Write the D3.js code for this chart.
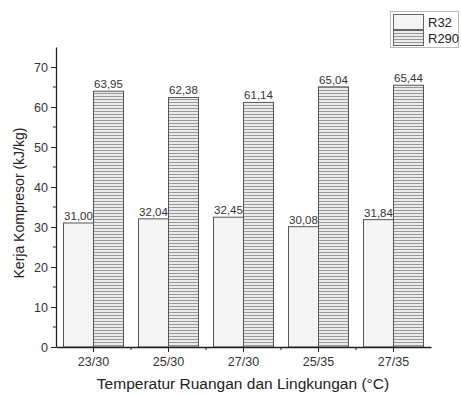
<!DOCTYPE html>
<html><head><meta charset="utf-8">
<script src="https://cdn.jsdelivr.net/npm/d3@7"></script>
<style>body{margin:0;background:#fff}svg{display:block}text{font-family:"Liberation Sans",Arimo,sans-serif}</style>
</head><body>
<svg id="c" width="461" height="396"></svg>
<script>
const categories = ["23/30","25/30","27/30","25/35","27/35"];
const seriesNames = ["R32","R290"];
const r32 = [31.00,32.04,32.45,30.08,31.84];
const r290 = [63.95,62.38,61.14,65.04,65.44];
const labelsR32 = ["31,00","32,04","32,45","30,08","31,84"];
const labelsR290 = ["63,95","62,38","61,14","65,04","65,44"];
const yTicks = [0,10,20,30,40,50,60,70];
const FONT = "'Liberation Sans',Arimo,sans-serif";

const svg = d3.select("#c");
const defs = svg.append("defs");
const p1 = defs.append("pattern").attr("id","dots").attr("patternUnits","userSpaceOnUse").attr("width",2).attr("height",2);
p1.append("rect").attr("width",2).attr("height",2).attr("fill","#f7f7f7");
p1.append("rect").attr("width",1).attr("height",1).attr("fill","#ececec");
const p2 = defs.append("pattern").attr("id","hlines").attr("patternUnits","userSpaceOnUse").attr("width",4).attr("height",3);
p2.append("rect").attr("width",4).attr("height",3).attr("fill","#ebebeb");
p2.append("rect").attr("y",0).attr("width",4).attr("height",1).attr("fill","#999");
const fills = ["url(#dots)","url(#hlines)"];

const L=56, R=431, T=47, B=347;
const x = d3.scaleBand().domain(categories).range([L,R]).paddingInner(0.2).paddingOuter(0.1);
const xs = d3.scaleBand().domain(seriesNames).range([0,x.bandwidth()]);
const y = d3.scaleLinear().domain([0,75]).range([B,T]);

const data = categories.map((c,i)=>({c, vals:[r32[i],r290[i]], labs:[labelsR32[i],labelsR290[i]]}));
const g = svg.append("g");
data.forEach(d=>{
  d.vals.forEach((v,j)=>{
    g.append("rect").attr("x",x(d.c)+xs(seriesNames[j])).attr("y",y(v))
      .attr("width",xs.bandwidth()).attr("height",B-y(v))
      .attr("fill",fills[j]).attr("stroke","#555").attr("stroke-width",1);
    g.append("text").attr("x",x(d.c)+xs(seriesNames[j])+xs.bandwidth()/2).attr("y",y(v)-3)
      .attr("text-anchor","middle").attr("font-size",11.5).attr("fill","#333").text(d.labs[j]);
  });
});

// axes
const yAxis = svg.append("g").attr("transform",`translate(${L},0)`)
  .call(d3.axisLeft(y).tickValues(yTicks).tickSize(5).tickSizeOuter(0));
yAxis.select(".domain").attr("stroke","#222").attr("stroke-width",1.3);
yAxis.selectAll(".tick line").attr("stroke","#222");
yAxis.selectAll("text").attr("font-size",12.5).attr("fill","#333").attr("font-family",FONT);
const minor = d3.range(5,75,10);
svg.append("g").selectAll("line").data(minor).join("line")
  .attr("x1",L-3).attr("x2",L).attr("y1",d=>y(d)).attr("y2",d=>y(d)).attr("stroke","#222");

const xAxis = svg.append("g").attr("transform",`translate(0,${B})`)
  .call(d3.axisBottom(x).tickSize(5).tickSizeOuter(0));
xAxis.select(".domain").attr("stroke","#222").attr("stroke-width",1.3);
xAxis.selectAll(".tick line").attr("stroke","#222");
xAxis.selectAll("text").attr("font-size",12.5).attr("fill","#333").attr("dy","0.85em").attr("font-family",FONT);
const step = x.step();
svg.append("g").selectAll("line").data(categories.slice(1)).join("line")
  .attr("x1",d=>x(d)-x.paddingInner()*step/2).attr("x2",d=>x(d)-x.paddingInner()*step/2)
  .attr("y1",B).attr("y2",B+3).attr("stroke","#222");

svg.append("text").attr("x",243).attr("y",389).attr("text-anchor","middle")
  .attr("font-size",15.5).attr("fill","#222").text("Temperatur Ruangan dan Lingkungan (°C)");
svg.append("text").attr("transform",`translate(24,203) rotate(-90)`).attr("text-anchor","middle")
  .attr("font-size",14).attr("fill","#222").text("Kerja Kompresor (kJ/kg)");

// legend
const lg = svg.append("g");
lg.append("rect").attr("x",390.5).attr("y",11.5).attr("width",68).attr("height",36).attr("fill","#fff").attr("stroke","#bbb");
seriesNames.forEach((s,i)=>{
  lg.append("rect").attr("x",393.5).attr("y",14.5+i*16).attr("width",30).attr("height",15)
    .attr("fill",fills[i]).attr("stroke","#666");
  lg.append("text").attr("x",428).attr("y",27+i*16).attr("font-size",13).attr("fill","#222").text(s);
});
</script>
</body></html>
